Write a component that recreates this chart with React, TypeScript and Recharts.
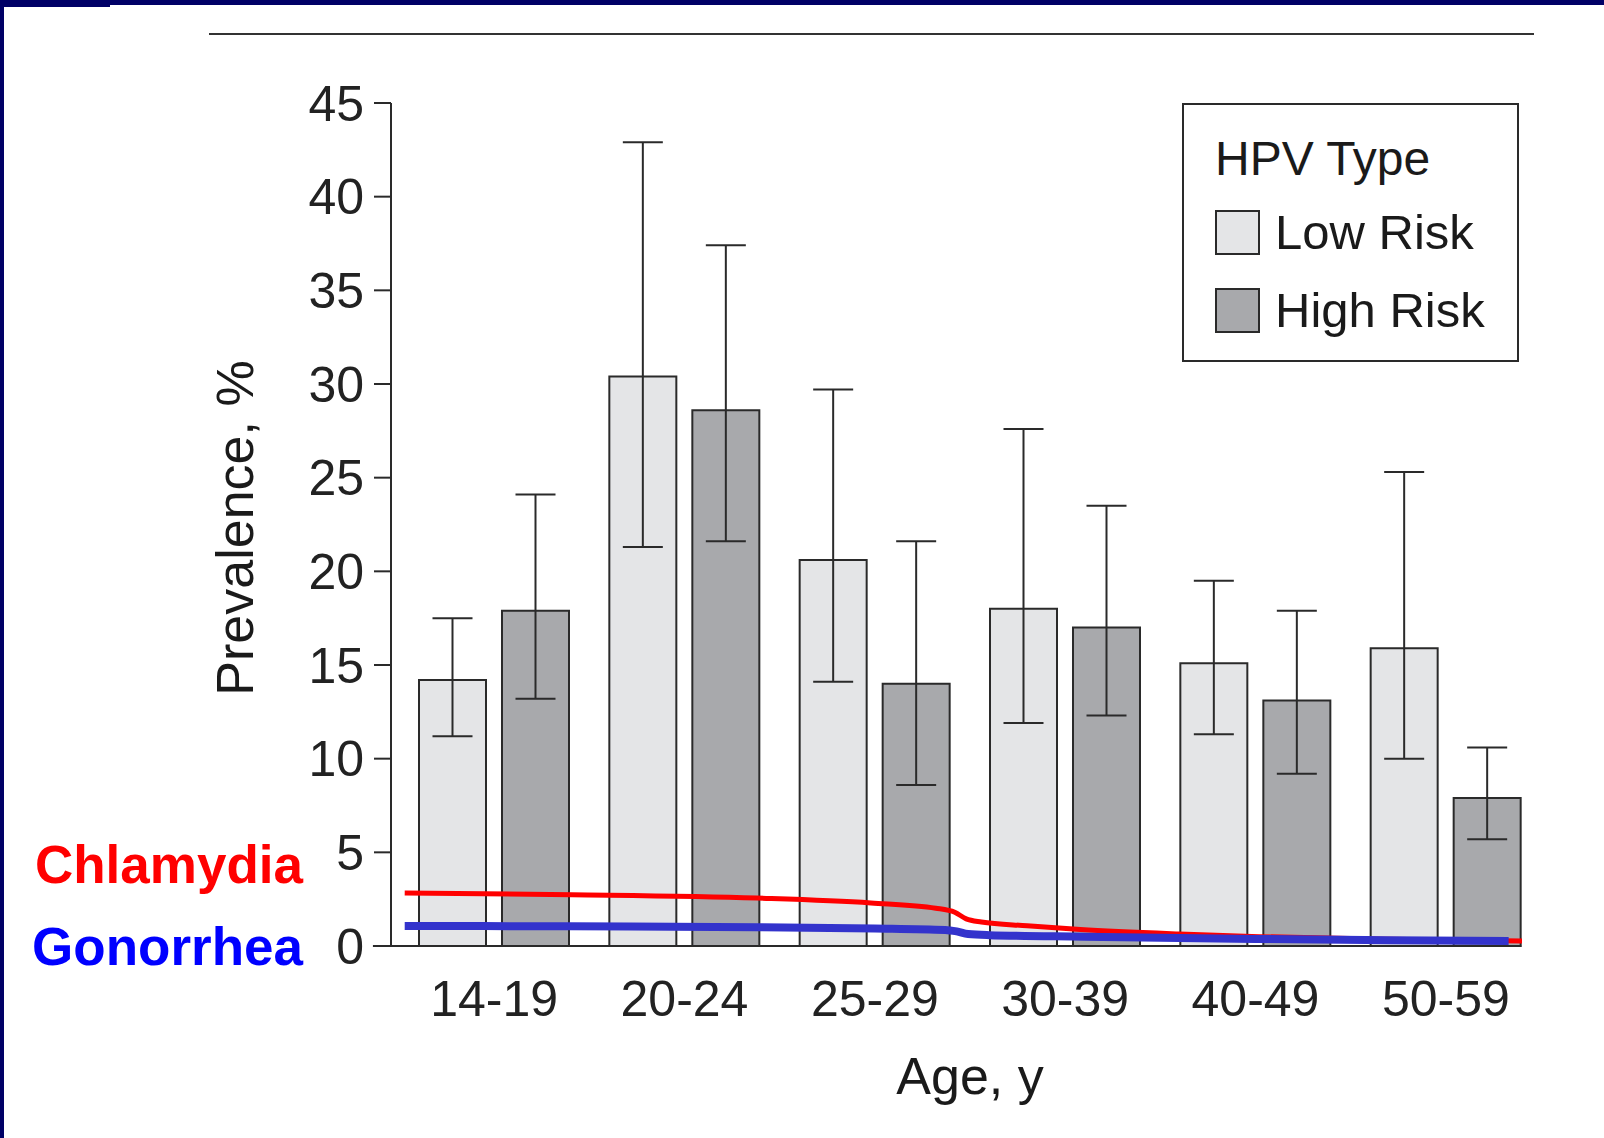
import {
  ComposedChart,
  Bar,
  Line,
  XAxis,
  YAxis,
  ErrorBar,
  ReferenceLine,
  Legend,
} from "recharts";

const ages = ["14-19", "20-24", "25-29", "30-39", "40-49", "50-59"];

const lowRisk = [14.2, 30.4, 20.6, 18.0, 15.1, 15.9];
const lowRiskCiLow = [11.2, 21.3, 14.1, 11.9, 11.3, 10.0];
const lowRiskCiHigh = [17.5, 42.9, 29.7, 27.6, 19.5, 25.3];

const highRisk = [17.9, 28.6, 14.0, 17.0, 13.1, 7.9];
const highRiskCiLow = [13.2, 21.6, 8.6, 12.3, 9.2, 5.7];
const highRiskCiHigh = [24.1, 37.4, 21.6, 23.5, 17.9, 10.6];

const riskNames = ["Low Risk", "High Risk"];

const yTicks = [0, 5, 10, 15, 20, 25, 30, 35, 40, 45];

// overlaid trend lines, x in age-group units (0 = left edge of 14-19)
const chlamydiaAt = [0.03, 0.91, 1.88, 2.48, 2.82, 2.92, 2.98, 3.06, 3.3, 3.58, 4.1, 4.52, 5.2, 5.9];
const chlamydia = [2.83, 2.74, 2.56, 2.3, 2.02, 1.8, 1.45, 1.28, 1.08, 0.88, 0.64, 0.5, 0.36, 0.27];
const gonorrheaAt = [0.03, 0.9, 1.88, 2.5, 2.87, 2.93, 2.99, 3.1, 3.6, 4.5, 5.2, 5.83];
const gonorrhea = [1.07, 1.05, 1.0, 0.94, 0.86, 0.78, 0.64, 0.58, 0.5, 0.38, 0.31, 0.27];

const barData = ages.map((age, i) => ({
  age,
  low: lowRisk[i],
  lowErr: [lowRisk[i] - lowRiskCiLow[i], lowRiskCiHigh[i] - lowRisk[i]],
  high: highRisk[i],
  highErr: [highRisk[i] - highRiskCiLow[i], highRiskCiHigh[i] - highRisk[i]],
}));

const chlamydiaData = chlamydiaAt.map((x, i) => ({ x, v: chlamydia[i] }));
const gonorrheaData = gonorrheaAt.map((x, i) => ({ x, v: gonorrhea[i] }));

const FONT = "'Liberation Sans', Arial, Helvetica, sans-serif";
const INK = "#2a2a2a";
const NAVY = "#000066";

function HpvLegend({ payload }: any) {
  const items = (payload || [])
    .filter((p: any) => riskNames.includes(p.value))
    .sort((a: any, b: any) => riskNames.indexOf(a.value) - riskNames.indexOf(b.value));
  return (
    <div
      style={{
        boxSizing: "border-box",
        width: 337,
        height: 259,
        border: `2px solid ${INK}`,
        background: "#fff",
        fontFamily: FONT,
        color: "#1a1a1a",
        padding: "26px 0 0 31px",
        textAlign: "left",
      }}
    >
      <div style={{ fontSize: 48, lineHeight: "56px", height: 56 }}>HPV Type</div>
      {items.map((p: any, i: number) => (
        <div
          key={p.value}
          style={{ display: "flex", alignItems: "center", height: 78, fontSize: 49, marginTop: i === 0 ? 6 : 0 }}
        >
          <span
            style={{
              display: "inline-block",
              boxSizing: "border-box",
              width: 45,
              height: 45,
              background: p.color,
              border: `2px solid ${INK}`,
              marginRight: 15,
            }}
          />
          {p.value}
        </div>
      ))}
    </div>
  );
}

export default function App() {
  return (
    <div
      style={{
        position: "absolute",
        left: 0,
        top: 0,
        width: 1604,
        height: 1138,
        background: "#fff",
        overflow: "hidden",
      }}
    >
      {/* slide frame */}
      <div style={{ position: "absolute", left: 0, top: 0, width: 1604, height: 5, background: NAVY }} />
      <div style={{ position: "absolute", left: 0, top: 0, width: 110, height: 7, background: NAVY }} />
      <div style={{ position: "absolute", left: 0, top: 0, width: 4, height: 1138, background: NAVY }} />
      {/* rule above figure */}
      <div style={{ position: "absolute", left: 209, top: 33, width: 1325, height: 2, background: "#333" }} />

      <ComposedChart
        width={1604}
        height={1138}
        data={barData}
        margin={{ top: 103, right: 63, bottom: 132, left: 291 }}
        barCategoryGap={20}
        barGap={16}
        style={{ position: "absolute", left: 0, top: 0 }}
      >
        <XAxis
          xAxisId="cat"
          dataKey="age"
          type="category"
          padding={{ left: 8, right: 0 }}
          height={60}
          axisLine={false}
          tickLine={false}
          tickSize={0}
          tickMargin={34}
          interval={0}
          tick={{ fontSize: 50, fontFamily: FONT, fill: "#222" }}
        />
        <XAxis
          xAxisId="pos"
          type="number"
          dataKey="x"
          domain={[0, 6]}
          padding={{ left: 8, right: 0 }}
          allowDataOverflow
          hide
        />
        <YAxis
          domain={[0, 45]}
          ticks={yTicks}
          width={100}
          interval={0}
          tickSize={17}
          tickMargin={10}
          axisLine={{ stroke: INK, strokeWidth: 2 }}
          tickLine={{ stroke: INK, strokeWidth: 2 }}
          tick={{ fontSize: 50, fontFamily: FONT, fill: "#222" }}
        />
        <ReferenceLine
          xAxisId="pos"
          segment={[
            { x: -0.137, y: 0 },
            { x: 5.896, y: 0 },
          ]}
          stroke={INK}
          strokeWidth={2}
          ifOverflow="visible"
        />
        <Bar
          xAxisId="cat"
          dataKey="low"
          name="Low Risk"
          fill="#e4e5e7"
          stroke={INK}
          strokeWidth={2}
          isAnimationActive={false}
          legendType="rect"
        >
          <ErrorBar dataKey="lowErr" width={20} stroke={INK} strokeWidth={2} />
        </Bar>
        <Bar
          xAxisId="cat"
          dataKey="high"
          name="High Risk"
          fill="#a8a9ac"
          stroke={INK}
          strokeWidth={2}
          isAnimationActive={false}
          legendType="rect"
        >
          <ErrorBar dataKey="highErr" width={20} stroke={INK} strokeWidth={2} />
        </Bar>
        <Line
          xAxisId="pos"
          data={chlamydiaData}
          dataKey="v"
          name="Chlamydia"
          type="monotone"
          stroke="#ff0000"
          strokeWidth={5}
          dot={false}
          activeDot={false}
          legendType="none"
          isAnimationActive={false}
        />
        <Line
          xAxisId="pos"
          data={gonorrheaData}
          dataKey="v"
          name="Gonorrhea"
          type="monotone"
          stroke="#3333cc"
          strokeWidth={8}
          dot={false}
          activeDot={false}
          legendType="none"
          isAnimationActive={false}
        />
        <Legend
          layout="vertical"
          align="center"
          verticalAlign="middle"
          content={<HpvLegend />}
          wrapperStyle={{ position: "absolute", left: 1182, top: 103, width: 337, height: 259 }}
        />
      </ComposedChart>

      {/* axis titles */}
      <div
        style={{
          position: "absolute",
          left: 235,
          top: 528,
          transform: "translate(-50%, -50%) rotate(-90deg)",
          fontFamily: FONT,
          fontSize: 52,
          color: "#1a1a1a",
          whiteSpace: "nowrap",
        }}
      >
        Prevalence, %
      </div>
      <div
        style={{
          position: "absolute",
          left: 970,
          top: 1092,
          transform: "translate(-50%, -80%)",
          fontFamily: FONT,
          fontSize: 52,
          color: "#1a1a1a",
          whiteSpace: "nowrap",
          lineHeight: "52px",
        }}
      >
        Age, y
      </div>

      {/* series annotations */}
      <div
        style={{
          position: "absolute",
          right: 1604 - 303,
          top: 887 - 49,
          fontFamily: "'Liberation Sans', Arial, sans-serif",
          fontWeight: 700,
          fontSize: 53,
          lineHeight: "53px",
          color: "#ff0000",
        }}
      >
        Chlamydia
      </div>
      <div
        style={{
          position: "absolute",
          right: 1604 - 303,
          top: 969 - 49,
          fontFamily: "'Liberation Sans', Arial, sans-serif",
          fontWeight: 700,
          fontSize: 53,
          lineHeight: "53px",
          color: "#0000ff",
        }}
      >
        Gonorrhea
      </div>
    </div>
  );
}
